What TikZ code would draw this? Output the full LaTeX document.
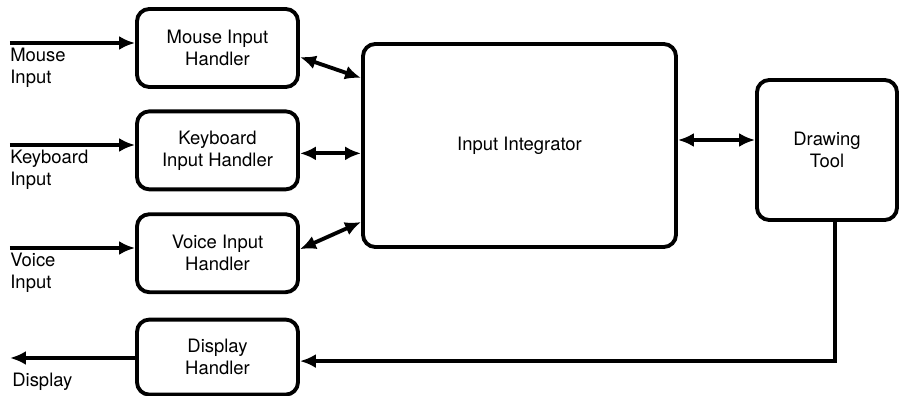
\documentclass[tikz,border=0pt]{standalone}
\usepackage{fontspec}
\setmainfont{TeX Gyre Heros}
\usetikzlibrary{positioning,arrows.meta}
\tikzset{
  hbox/.style ={rectangle, rounded corners=7pt, draw=black, line width=2.2pt,
                align=center, inner sep=2pt, minimum width=3.22cm, minimum height=1.56cm,
                font=\fontsize{10.5}{12.5}\selectfont},
  ibox/.style ={hbox, minimum width=6.26cm, minimum height=4.06cm},
  tbox/.style ={hbox, minimum width=2.8cm, minimum height=2.8cm},
  arr/.style  ={-{Latex[length=3.2mm,width=2.8mm]}, line width=2.2pt},
  darr/.style ={{Latex[length=3.2mm,width=2.8mm]}-{Latex[length=3.2mm,width=2.8mm]}, line width=2.2pt},
  el/.style   ={font=\fontsize{10.5}{12.5}\selectfont, align=left, anchor=north west, inner sep=0pt},
}
\begin{document}
\begin{tikzpicture}
  \useasboundingbox (0,0) rectangle (18,-7.92);
  % handlers on the left
  \node[hbox] (mouse) at (4.35,-0.96) {Mouse Input\\Handler};
  \node[hbox, below=0.41cm of mouse] (kbd) {Keyboard\\Input Handler};
  \node[hbox, below=0.42cm of kbd] (voice) {Voice Input\\Handler};
  \node[hbox, below=0.47cm of voice, minimum height=1.5cm] (disp) {Display\\Handler};
  \node[ibox] (integ) at (10.39,-2.91) {Input Integrator};
  \node[tbox] (tool) at (16.54,-3.0) {Drawing\\Tool};
  % outside inputs and output
  \coordinate (min) at (0.2,-0.86);
  \coordinate (kin) at (0.2,-2.9);
  \coordinate (vin) at (0.2,-4.96);
  \coordinate (dout) at (0.2,-7.16);
  \draw[arr] (min) -- (min -| mouse.west);
  \draw[arr] (kin) -- (kin -| kbd.west);
  \draw[arr] (vin) -- (vin -| voice.west);
  \draw[arr] (dout -| disp.west) -- (dout);
  \node[el] (minl) at ([yshift=-0.1cm]min) {Mouse\\Input};
  \node[el] (kinl) at ([yshift=-0.1cm]kin) {Keyboard\\Input};
  \node[el] (vinl) at ([yshift=-0.1cm]vin) {Voice\\Input};
  \node[el] (doutl) at ([xshift=0.04cm,yshift=-0.3cm]dout) {Display};
  % links to the integrator
  \draw[darr] ([yshift=-0.18cm]mouse.east) -- ([yshift=1.35cm]integ.west);
  \draw[darr] ([yshift=-0.06cm]kbd.east) -- ([yshift=-0.06cm]kbd.east -| integ.west);
  \draw[darr] ([yshift=0.08cm]voice.east) -- ([yshift=-1.53cm]integ.west);
  \draw[darr] ([yshift=0.11cm]integ.east) -- ([yshift=0.11cm]integ.east -| tool.west);
  \draw[arr] ([xshift=0.16cm]tool.south) |- ([yshift=-0.08cm]disp.east);
\end{tikzpicture}
\end{document}
